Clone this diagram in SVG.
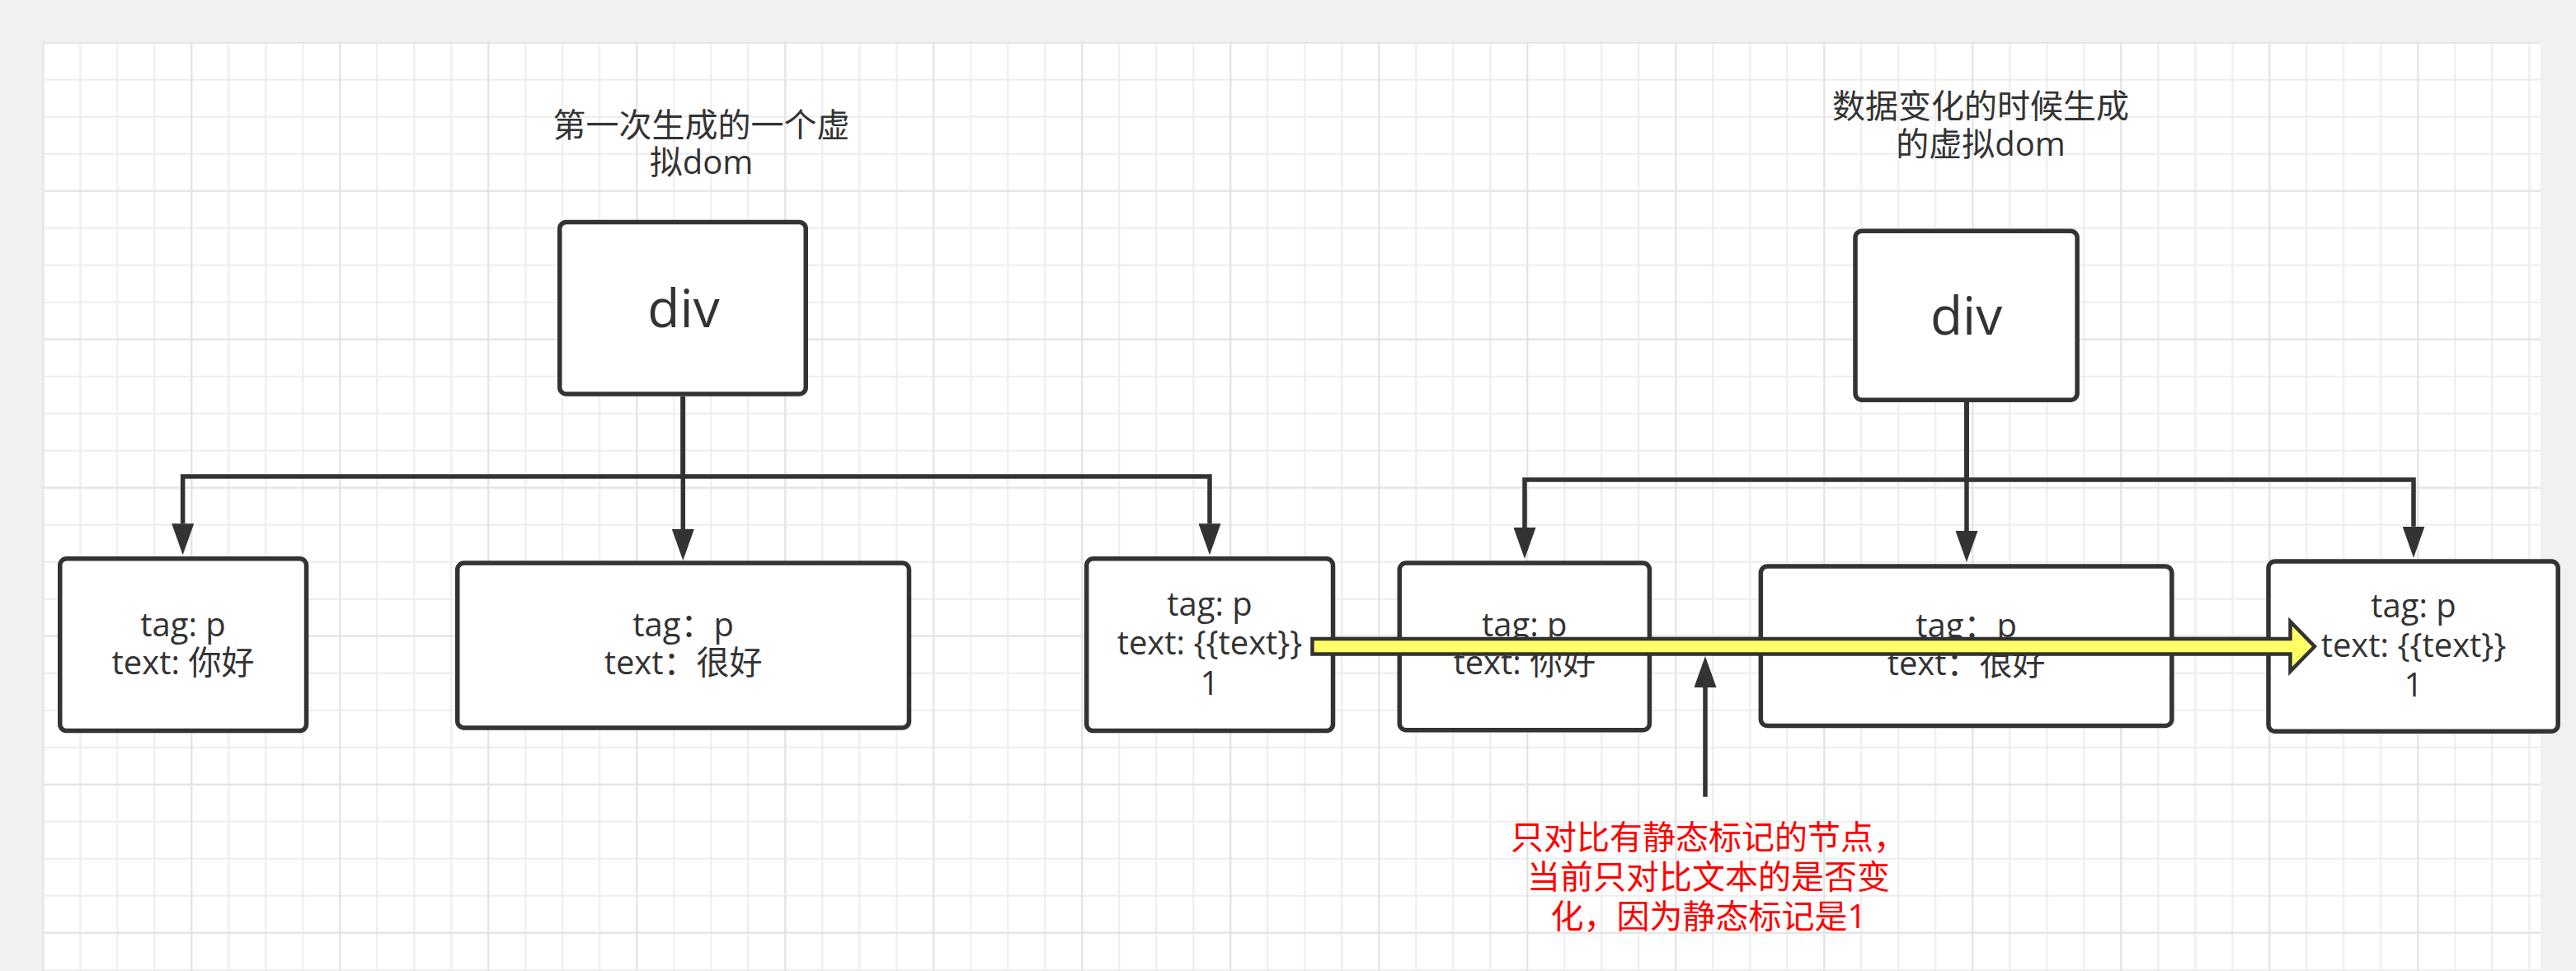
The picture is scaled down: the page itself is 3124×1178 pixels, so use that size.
<svg xmlns="http://www.w3.org/2000/svg" width="3124" height="1178" viewBox="0 0 3124 1178">
  <style>
    .box { fill: #ffffff; stroke: #333333; stroke-width: 5.5; }
    .edge { fill: none; stroke: #333333; stroke-width: 5.5; marker-end: url(#arrowBlock); }
    .lbl { font-family: "Open Sans", "Noto Sans CJK SC", sans-serif; font-size: 40px; fill: #333333; text-anchor: middle; }
    .big { font-size: 64px; }
    .note { fill: #ff0000; }
  </style>
  <defs>
    <pattern id="gridMinor" patternUnits="userSpaceOnUse" x="51.3" y="50.7" width="45" height="45">
      <rect width="45" height="45" fill="#ffffff"/>
      <rect x="0" y="0" width="45" height="2" fill="#ededed"/>
      <rect x="0" y="0" width="2" height="45" fill="#ededed"/>
    </pattern>
    <pattern id="gridMajor" patternUnits="userSpaceOnUse" x="51.3" y="50.7" width="180" height="180">
      <rect x="0" y="0" width="180" height="2" fill="#e3e3e3"/>
      <rect x="0" y="0" width="2" height="180" fill="#e3e3e3"/>
    </pattern>
    <marker id="arrowBlock" markerUnits="userSpaceOnUse" markerWidth="38" markerHeight="27" refX="0" refY="13.5" orient="auto" viewBox="0 0 38 27">
      <path d="M0,0 L38,13.5 L0,27 Z" fill="#333333"/>
    </marker>
  </defs>

  <!-- canvas -->
  <rect x="0" y="0" width="3124" height="1178" fill="#f1f1f1"/>
  <g id="grid">
    <rect x="51.3" y="50.7" width="3029.7" height="1127.3" fill="url(#gridMinor)"/>
    <rect x="51.3" y="50.7" width="3029.7" height="1127.3" fill="url(#gridMajor)"/>
  </g>

  <!-- titles -->
  <g id="title-first">
    <text class="lbl" x="850.5" y="166">第一次生成的一个虚<tspan x="850.5" dy="45">拟dom</tspan></text>
  </g>
  <g id="title-second">
    <text class="lbl" x="2402" y="143">数据变化的时候生成<tspan x="2402" dy="46">的虚拟dom</tspan></text>
  </g>

  <!-- first virtual dom tree -->
  <g id="div-first">
    <rect class="box" x="678.75" y="269.45" width="298.5" height="208.5" rx="8"/>
    <text class="lbl big" x="829" y="396.7">div</text>
  </g>
  <g id="p-first-1">
    <rect class="box" x="72.75" y="677.75" width="298.8" height="208.8" rx="8"/>
    <text class="lbl" x="222" y="772">tag: p<tspan x="222" dy="46">text: 你好</tspan></text>
  </g>
  <g id="p-first-2">
    <rect class="box" x="554.75" y="683" width="547.7" height="199.9" rx="8"/>
    <text class="lbl" x="828.6" y="772">tag：p<tspan x="828.6" dy="46">text：很好</tspan></text>
  </g>
  <g id="p-first-3">
    <rect class="box" x="1317.75" y="677.75" width="298.8" height="208.8" rx="8"/>
    <text class="lbl" x="1467" y="747">tag: p<tspan x="1467" dy="47">text: {{text}}</tspan><tspan x="1467" dy="49">1</tspan></text>
  </g>

  <!-- second virtual dom tree -->
  <g id="div-second">
    <rect class="box" x="2250" y="280.2" width="269.1" height="205" rx="8"/>
    <text class="lbl big" x="2384.6" y="405.6">div</text>
  </g>
  <g id="p-second-1">
    <rect class="box" x="1697.25" y="683" width="303.2" height="202.7" rx="8"/>
    <text class="lbl" x="1848.8" y="772">tag: p<tspan x="1848.8" dy="46">text: 你好</tspan></text>
  </g>
  <g id="p-second-2">
    <rect class="box" x="2135.35" y="687" width="498.5" height="193.5" rx="8"/>
    <text class="lbl" x="2384.6" y="773">tag：p<tspan x="2384.6" dy="46">text：很好</tspan></text>
  </g>
  <g id="p-second-3">
    <rect class="box" x="2751" y="681" width="351.2" height="206.2" rx="8"/>
    <text class="lbl" x="2927" y="749">tag: p<tspan x="2927" dy="47.5">text: {{text}}</tspan><tspan x="2927" dy="48.5">1</tspan></text>
  </g>

  <!-- connectors -->
  <g id="connectors">
    <path class="edge" d="M828.3,481 V578 H221.7 V635.3"/>
    <path class="edge" d="M828.3,481 V642"/>
    <path class="edge" d="M828.3,481 V578 H1467 V635.3"/>
    <path class="edge" d="M2385,488 V582 H1849 V640"/>
    <path class="edge" d="M2385,488 V644"/>
    <path class="edge" d="M2385,488 V582 H2927 V638.7"/>
    <!-- static-mark comparison arrow -->
    <path d="M1591.5,775 H2777.5 V754 L2807,784.3 L2777.5,814.5 V793.5 H1591.5 Z" fill="#ffff66" stroke="#333333" stroke-width="4.5"/>
    <path class="edge" d="M2068,966.7 V834"/>
  </g>

  <!-- note -->
  <g id="note">
    <text class="lbl note" x="2072" y="1030">只对比有静态标记的节点，<tspan x="2072" dy="48">当前只对比文本的是否变</tspan><tspan x="2072" dy="48">化，因为静态标记是1</tspan></text>
  </g>
</svg>
